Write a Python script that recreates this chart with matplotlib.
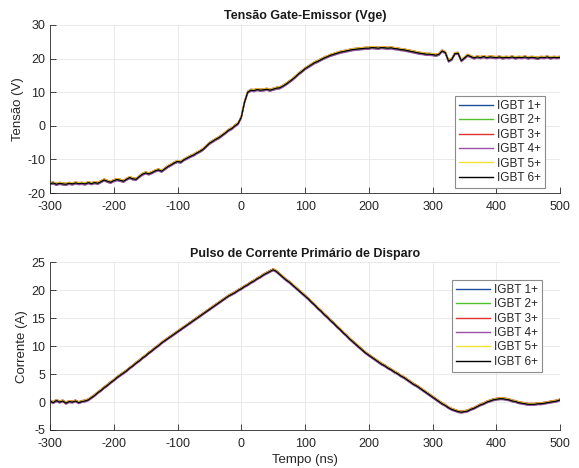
"""Gate-emitter voltage and primary trigger current pulse for the six IGBTs."""
import numpy as np
import matplotlib
matplotlib.use("Agg")
import matplotlib.pyplot as plt

plt.rcParams["font.family"] = ["Liberation Sans", "DejaVu Sans"]
plt.rcParams["axes.unicode_minus"] = False

# time base (ns), 5 ns step
tempo = np.arange(-300, 505, 5)

# gate-emitter voltage (V)
vge = [
    -17.2, -17.0, -17.4, -17.1, -17.3, -17.4, -17.1, -17.3, -17.0, -17.2,
    -17.1, -17.3, -16.9, -17.2, -16.9, -17.1, -16.6, -16.1, -16.5, -16.8,
    -16.3, -16.0, -16.2, -16.5, -15.9, -15.4, -15.8, -15.9, -15.1, -14.4,
    -14.0, -14.3, -13.9, -13.4, -13.1, -13.5, -12.8, -12.1, -11.6, -11.0,
    -10.6, -10.8, -10.1, -9.6, -9.1, -8.7, -8.1, -7.6, -7.0, -6.1,
    -5.2, -4.6, -4.0, -3.5, -2.8, -2.1, -1.3, -0.8, 0.0, 0.7,
    2.6, 7.0, 10.0, 10.6, 10.5, 10.8, 10.6, 10.7, 10.9, 10.6,
    10.9, 11.2, 11.3, 11.8, 12.4, 13.1, 13.8, 14.6, 15.5, 16.2,
    17.0, 17.6, 18.2, 18.8, 19.2, 19.7, 20.2, 20.6, 21.0, 21.3,
    21.6, 21.9, 22.1, 22.3, 22.5, 22.7, 22.8, 22.9, 23.0, 23.1,
    23.1, 23.3, 23.2, 23.1, 23.3, 23.2, 23.1, 23.2, 23.0, 22.9,
    22.7, 22.6, 22.4, 22.2, 22.0, 21.8, 21.6, 21.5, 21.3, 21.3,
    21.2, 21.0, 21.3, 22.3, 21.8, 19.3, 19.8, 21.5, 21.6, 19.4,
    20.2, 21.0, 20.6, 20.2, 20.5, 20.3, 20.6, 20.3, 20.5, 20.4,
    20.3, 20.5, 20.2, 20.4, 20.3, 20.5, 20.2, 20.4, 20.3, 20.5,
    20.2, 20.4, 20.3, 20.1, 20.4, 20.3, 20.5, 20.2, 20.4, 20.3,
    20.4,
]

# primary trigger current (A)
corrente = [
    0.2, -0.1, 0.3, 0.0, 0.2, -0.2, 0.1, 0.0, 0.2, -0.1,
    0.1, 0.2, 0.4, 0.8, 1.2, 1.7, 2.1, 2.6, 3.0, 3.5,
    3.9, 4.4, 4.8, 5.2, 5.6, 6.1, 6.5, 7.0, 7.4, 7.9,
    8.3, 8.8, 9.2, 9.7, 10.1, 10.6, 11.0, 11.4, 11.8, 12.2,
    12.6, 13.0, 13.4, 13.8, 14.2, 14.6, 15.0, 15.4, 15.8, 16.2,
    16.6, 17.0, 17.4, 17.8, 18.2, 18.6, 19.0, 19.3, 19.6, 20.0,
    20.3, 20.7, 21.0, 21.4, 21.7, 22.1, 22.4, 22.8, 23.1, 23.4,
    23.7, 23.4, 22.9, 22.4, 21.9, 21.5, 21.0, 20.5, 20.0, 19.5,
    19.0, 18.5, 17.9, 17.4, 16.8, 16.3, 15.7, 15.2, 14.6, 14.1,
    13.5, 13.0, 12.4, 11.9, 11.3, 10.8, 10.3, 9.8, 9.3, 8.8,
    8.4, 8.0, 7.6, 7.2, 6.8, 6.5, 6.1, 5.8, 5.4, 5.1,
    4.7, 4.4, 4.0, 3.6, 3.2, 2.9, 2.5, 2.1, 1.7, 1.3,
    0.9, 0.5, 0.1, -0.3, -0.6, -1.0, -1.3, -1.5, -1.7, -1.8,
    -1.7, -1.6, -1.3, -1.1, -0.8, -0.5, -0.3, 0.0, 0.2, 0.4,
    0.5, 0.6, 0.6, 0.5, 0.4, 0.2, 0.1, -0.1, -0.2, -0.3,
    -0.4, -0.4, -0.4, -0.3, -0.3, -0.2, -0.1, 0.0, 0.1, 0.2,
    0.4,
]

igbts = ["IGBT 1+", "IGBT 2+", "IGBT 3+", "IGBT 4+", "IGBT 5+", "IGBT 6+"]
cores = ["#1c4f9e", "#4fbf2c", "#e0312c", "#9b4fa8", "#eee234", "#000000"]
# small per-channel deviation between probes
desvio_vge = [0.2, -0.25, 0.3, -0.35, 0.25, 0.0]
desvio_cor = [0.12, -0.12, 0.18, -0.18, 0.12, 0.0]

cinza = "#262626"


def estilo_eixo(ax, yticks):
    ax.set_xlim(-300, 500)
    ax.set_xticks(range(-300, 501, 100))
    ax.set_yticks(yticks)
    ax.set_ylim(yticks[0], yticks[-1])
    ax.grid(True, color="#e6e6e6", linewidth=0.6)
    ax.set_axisbelow(True)
    for lado in ["top", "right"]:
        ax.spines[lado].set_visible(False)
    for lado in ["left", "bottom"]:
        ax.spines[lado].set_color(cinza)
        ax.spines[lado].set_linewidth(0.6)
    ax.tick_params(direction="in", length=4, width=0.6, color=cinza,
                   labelcolor=cinza, labelsize=9)
    ax.tick_params(axis="x", pad=6)


fig = plt.figure(figsize=(5.79, 4.68), dpi=100)
ax1 = fig.add_axes([0.0864, 0.5876, 0.881, 0.359])
ax2 = fig.add_axes([0.0864, 0.0812, 0.881, 0.358])

for nome, cor, d in zip(igbts, cores, desvio_vge):
    ax1.plot(tempo, np.array(vge) + d, color=cor, linewidth=0.9, label=nome)
for nome, cor, d in zip(igbts, cores, desvio_cor):
    ax2.plot(tempo, np.array(corrente) + d, color=cor, linewidth=0.9, label=nome)

estilo_eixo(ax1, list(range(-20, 31, 10)))
estilo_eixo(ax2, list(range(-5, 26, 5)))

ax1.set_title("Tensão Gate-Emissor (Vge)", fontsize=9, fontweight="bold",
              color="#1a1a1a", pad=4)
ax2.set_title("Pulso de Corrente Primário de Disparo", fontsize=9,
              fontweight="bold", color="#1a1a1a", pad=4)
ax1.set_ylabel("Tensão (V)", fontsize=9.5, color=cinza, labelpad=2)
ax2.set_ylabel("Corrente (A)", fontsize=9.5, color=cinza, labelpad=2)
ax2.set_xlabel("Tempo (ns)", fontsize=9.5, color=cinza, labelpad=3)

for ax, pos in [(ax1, (0.786, 0.795)), (ax2, (0.780, 0.402))]:
    leg = ax.legend(loc="upper left", bbox_to_anchor=pos,
                    bbox_transform=fig.transFigure, fontsize=8.5,
                    fancybox=False, framealpha=1, edgecolor="#8c8c8c",
                    handlelength=2.9, handletextpad=0.3, labelspacing=0.2,
                    borderpad=0.35, borderaxespad=0)
    leg.get_frame().set_linewidth(0.8)
    for linha in leg.get_lines():
        linha.set_linewidth(1.0)
    for txt in leg.get_texts():
        txt.set_color(cinza)

fig.savefig("out.png", dpi=100)
